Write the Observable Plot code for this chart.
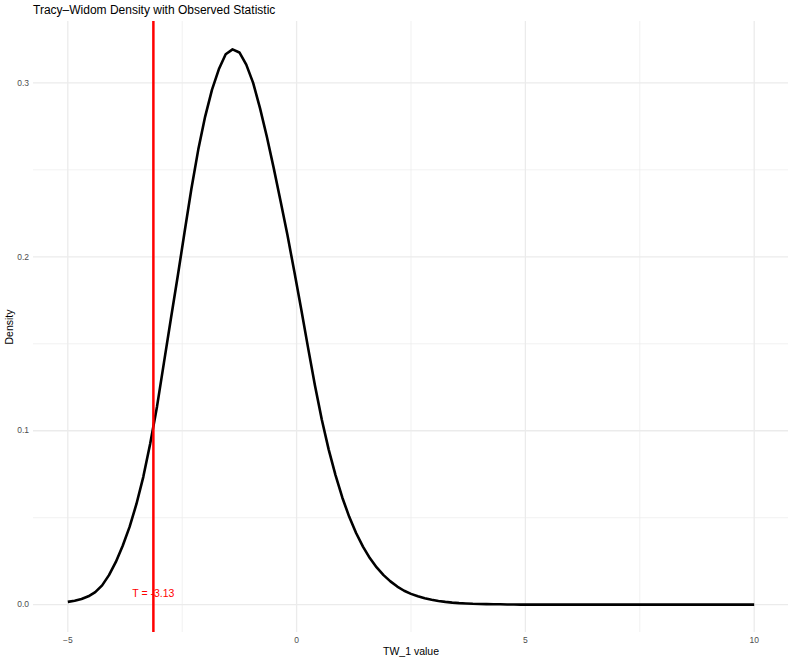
<!DOCTYPE html>
<html><head><meta charset="utf-8">
<script src="https://cdn.jsdelivr.net/npm/d3@7"></script>
<script src="https://cdn.jsdelivr.net/npm/@observablehq/plot@0.6"></script>
<style>
body{margin:0;background:#fff;}
#title{font-family:"Liberation Sans",Arial,Helvetica,sans-serif;font-size:12px;color:#000;height:16px;padding-top:2px;padding-left:33px;line-height:16px;white-space:nowrap;}
#chart svg{display:block;}
</style></head><body>
<div id="title"></div>
<div id="chart"></div>
<script>
const titleText = "Tracy–Widom Density with Observed Statistic";
const xLabel = "TW_1 value";
const yLabel = "Density";
const twX = [-5, -4.85, -4.7, -4.55, -4.4, -4.25, -4.1, -3.95, -3.8, -3.65, -3.5, -3.35, -3.2, -3.05, -2.9, -2.75, -2.6, -2.45, -2.3, -2.15, -2, -1.85, -1.7, -1.55, -1.4, -1.25, -1.1, -0.95, -0.8, -0.65, -0.5, -0.35, -0.2, -0.05, 0.1, 0.25, 0.4, 0.55, 0.7, 0.85, 1, 1.15, 1.3, 1.45, 1.6, 1.75, 1.9, 2.05, 2.2, 2.35, 2.5, 2.65, 2.8, 2.95, 3.1, 3.25, 3.4, 3.55, 3.7, 3.85, 4, 4.15, 4.3, 4.45, 4.6, 4.75, 4.9, 5.05, 5.2, 5.35, 5.5, 5.65, 5.8, 5.95, 6.1, 6.25, 6.4, 6.55, 6.7, 6.85, 7, 7.15, 7.3, 7.45, 7.6, 7.75, 7.9, 8.05, 8.2, 8.35, 8.5, 8.65, 8.8, 8.95, 9.1, 9.25, 9.4, 9.55, 9.7, 9.85, 10];
const twDensity = [
  0.0016, 0.0023, 0.0033, 0.0048, 0.0072, 0.0111, 0.0170, 0.0246, 0.0339, 0.0447,
  0.0579, 0.0735, 0.0925, 0.1140, 0.1390, 0.1640, 0.1885, 0.2140, 0.2390, 0.2615,
  0.2805, 0.2960, 0.3078, 0.3165, 0.3193, 0.3175, 0.3105, 0.3000, 0.2855, 0.2690,
  0.2510, 0.2320, 0.2125, 0.1915, 0.1700, 0.1478, 0.1262, 0.1065, 0.0893, 0.0745,
  0.0615, 0.0505, 0.0412, 0.0334, 0.0268, 0.0214, 0.0170, 0.0134, 0.0104, 0.0080,
  0.0062, 0.0048, 0.0037, 0.0028, 0.0021, 0.0016, 0.0012, 0.0009, 0.0007, 0.0005,
  0.0004, 0.0003, 0.0002, 0.0002, 0.0001, 0.0001, 0, 0, 0, 0,
  0, 0, 0, 0, 0, 0, 0, 0, 0, 0,
  0, 0, 0, 0, 0, 0, 0, 0, 0, 0,
  0, 0, 0, 0, 0, 0, 0, 0, 0, 0,
  0
];
const observedT = -3.13;
const observedLabel = "T = -3.13";
const xTicks = [-5, 0, 5, 10];
const xMinor = [-2.5, 2.5, 7.5];
const yTicks = [0, 0.1, 0.2, 0.3];
const yMinor = [0.05, 0.15, 0.25];

document.getElementById("title").textContent = titleText;
const curve = twX.map((x, i) => ({x, y: twDensity[i]}));
const grid = "#EBEBEB";
const tickColor = "#4D4D4D";

const chart = Plot.plot({
  width: 793,
  height: 643,
  marginTop: 3,
  marginBottom: 29,
  marginLeft: 33,
  marginRight: 5,
  style: {fontFamily: "Liberation Sans, Arial, Helvetica, sans-serif", fontSize: "8.8px", background: "#fff"},
  x: {domain: [-5.75, 10.75], axis: null},
  y: {domain: [-0.016, 0.3353], axis: null},
  marks: [
    Plot.ruleX(xMinor, {stroke: grid, strokeWidth: 0.7}),
    Plot.ruleY(yMinor, {stroke: grid, strokeWidth: 0.7}),
    Plot.ruleX(xTicks, {stroke: grid, strokeWidth: 1.3}),
    Plot.ruleY(yTicks, {stroke: grid, strokeWidth: 1.3}),
    Plot.line(curve, {x: "x", y: "y", stroke: "black", strokeWidth: 2.6, strokeLinejoin: "round", strokeLinecap: "butt"}),
    Plot.ruleX([observedT], {stroke: "red", strokeWidth: 2.5}),
    Plot.text([{x: observedT, y: 0, t: observedLabel}], {x: "x", y: "y", text: "t", dy: -11, fill: "red", fontSize: 10.5, textAnchor: "middle", lineAnchor: "middle"}),
    Plot.axisX(xTicks, {tickSize: 0, tickPadding: 4.5, fill: tickColor, fontSize: 8.5, label: null}),
    Plot.axisY(yTicks, {tickSize: 0, tickPadding: 4.5, fill: tickColor, fontSize: 8.5, label: null, tickFormat: d3.format(".1f")}),
    Plot.text([xLabel], {frameAnchor: "bottom", dy: 19, lineAnchor: "middle", textAnchor: "middle", fontSize: 10.5, fill: "black"}),
    Plot.text([yLabel], {frameAnchor: "left", dx: -23.5, rotate: -90, lineAnchor: "middle", textAnchor: "middle", fontSize: 10.5, fill: "black"})
  ]
});
document.getElementById("chart").appendChild(chart);
</script>
</body></html>
